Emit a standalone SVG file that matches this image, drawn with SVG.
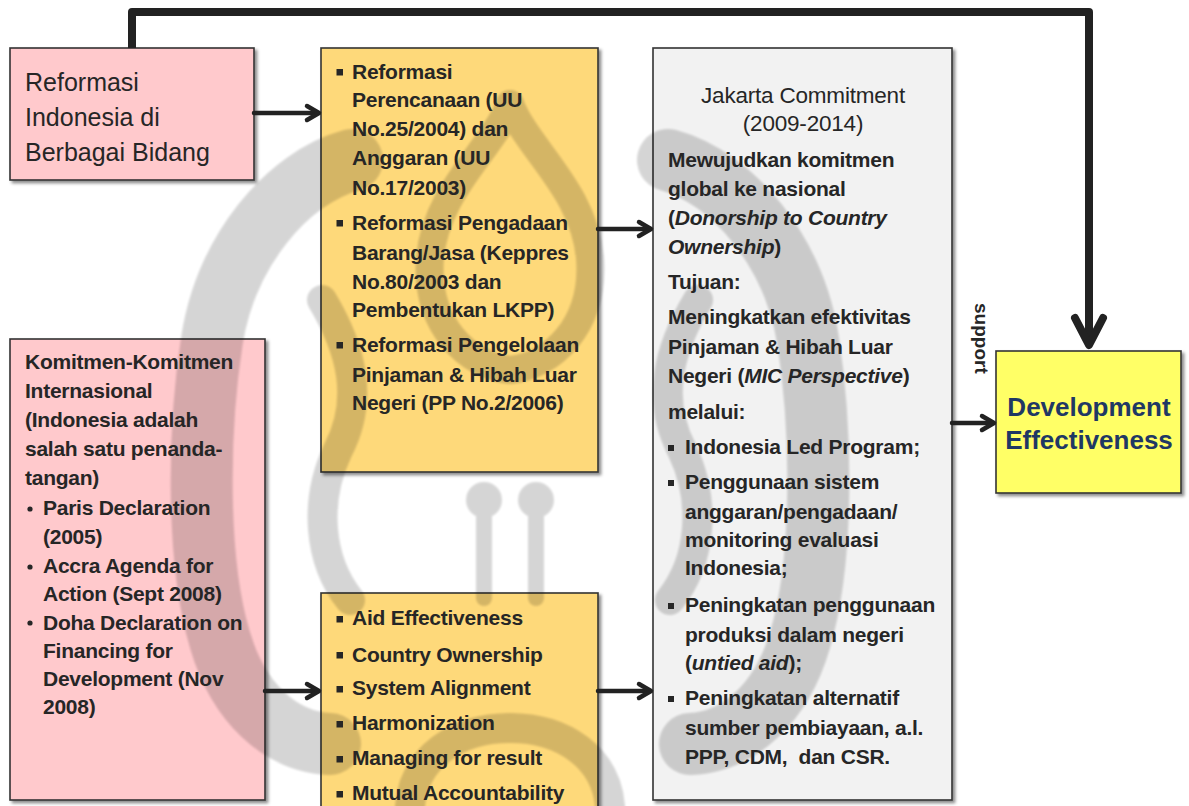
<svg xmlns="http://www.w3.org/2000/svg" width="1189" height="806" viewBox="0 0 1189 806">
  <defs>
    <filter id="shadow" x="-5%" y="-5%" width="112%" height="112%">
      <feDropShadow dx="2.5" dy="2.5" stdDeviation="1.5" flood-color="#000" flood-opacity="0.45"/>
    </filter>
    <filter id="soft" x="-10%" y="-10%" width="120%" height="120%">
      <feGaussianBlur stdDeviation="1.2"/>
    </filter>
    <style>
      .box { stroke: #333; stroke-width: 1.6; filter: url(#shadow); }
      .pink { fill: #FFC9CC; }
      .gold { fill: #FED97A; }
      .grey { fill: #F2F2F2; }
      .yellow { fill: #FFFF66; }
      text { font-family: "Liberation Sans", Arial, sans-serif; fill: #262626; }
      .reg25 { font-size: 25px; }
      .b21 { font-size: 21px; font-weight: bold; letter-spacing: -0.25px; }
      .r22 { font-size: 22.5px; letter-spacing: -0.2px; }
      .it { font-style: italic; }
      .title { font-size: 26px; font-weight: bold; fill: #1F3864; }
      .sup { font-size: 19px; font-weight: bold; }
      .sq { fill: #262626; }
      .link { fill: none; stroke: #222; stroke-width: 4.5; stroke-linecap: round; stroke-linejoin: round; }
      .main { fill: none; stroke: #222; stroke-width: 8; stroke-linejoin: round; }
      .mainhead { fill: none; stroke: #222; stroke-width: 8; stroke-linecap: round; stroke-linejoin: round; }
      .wm { fill: none; stroke: #000; stroke-linecap: round; }
    </style>
    <!-- left half of the background emblem; mirrored about x=510 -->
    <g id="emblem-half">
      <!-- central flame outline -->
      <path class="wm" stroke-width="28" d="M510,104 C492,150 436,190 430,258 C425,325 468,366 510,370"/>
      <!-- large outer horn -->
      <path class="wm" stroke-width="62" d="M352,160 C286,178 226,252 212,340 C198,430 196,560 220,640 C238,702 280,742 330,744"/>
      <!-- inner S-curl -->
      <path class="wm" stroke-width="30" d="M322,300 C352,350 364,400 338,450 C314,500 318,560 350,600"/>
      <!-- eye on a stalk -->
      <path class="wm" stroke-width="16" d="M484,598 V510"/>
      <circle cx="484" cy="500" r="18" fill="#000"/>
      <!-- lower arch -->
      <path class="wm" stroke-width="30" d="M410,806 C414,758 456,728 510,728"/>
    </g>
  </defs>

  <rect width="1189" height="806" fill="#FFFFFF"/>

  <!-- Reformasi Indonesia -->
  <g id="reformasi-indonesia">
    <rect class="box pink" x="10" y="48" width="244" height="132"/>
  </g>

  <!-- Reform items -->
  <g id="reform-items">
    <rect class="box gold" x="321" y="48" width="277" height="424"/>
  </g>

  <!-- International commitments -->
  <g id="komitmen-internasional">
    <rect class="box pink" x="10" y="339" width="255" height="461"/>
  </g>

  <!-- Aid effectiveness principles -->
  <g id="prinsip">
    <rect class="box gold" x="321" y="593" width="277" height="230"/>
  </g>

  <!-- Jakarta Commitment -->
  <g id="jakarta-commitment">
    <rect class="box grey" x="653" y="48" width="299" height="752"/>
  </g>

  <!-- Development Effectiveness -->
  <g id="development-effectiveness">
    <rect class="box yellow" x="996" y="351" width="185" height="142"/>
  </g>

  <!-- faint emblem over the box fills, under the lettering -->
  <g id="emblem" opacity="0.16" filter="url(#soft)">
    <use href="#emblem-half"/>
    <use href="#emblem-half" transform="matrix(-1 0 0 1 1020 0)"/>
  </g>

  <!-- lettering -->
  <g id="labels">
    <g id="reformasi-indonesia-text">
      <text class="reg25" x="25" y="91">Reformasi</text>
      <text class="reg25" x="25" y="126">Indonesia di</text>
      <text class="reg25" x="25" y="161">Berbagai Bidang</text>
    </g>
    <g id="reform-items-text">
      <rect class="sq" x="336.5" y="69" width="6.5" height="6.5"/>
      <rect class="sq" x="336.5" y="220" width="6.5" height="6.5"/>
      <rect class="sq" x="336.5" y="342" width="6.5" height="6.5"/>
      <text class="b21" x="352" y="79">Reformasi</text>
      <text class="b21" x="352" y="107">Perencanaan (UU</text>
      <text class="b21" x="352" y="136">No.25/2004) dan</text>
      <text class="b21" x="352" y="165">Anggaran (UU</text>
      <text class="b21" x="352" y="195">No.17/2003)</text>
      <text class="b21" x="352" y="230">Reformasi Pengadaan</text>
      <text class="b21" x="352" y="260">Barang/Jasa (Keppres</text>
      <text class="b21" x="352" y="289">No.80/2003 dan</text>
      <text class="b21" x="352" y="317">Pembentukan LKPP)</text>
      <text class="b21" x="352" y="352">Reformasi Pengelolaan</text>
      <text class="b21" x="352" y="382">Pinjaman &amp; Hibah Luar</text>
      <text class="b21" x="352" y="410">Negeri (PP No.2/2006)</text>
    </g>
    <g id="komitmen-internasional-text">
      <text class="b21" x="25" y="369">Komitmen-Komitmen</text>
      <text class="b21" x="25" y="398">Internasional</text>
      <text class="b21" x="25" y="427">(Indonesia adalah</text>
      <text class="b21" x="25" y="456">salah satu penanda-</text>
      <text class="b21" x="25" y="485">tangan)</text>
      <circle class="sq" cx="30" cy="509" r="2.6"/>
      <circle class="sq" cx="30" cy="567" r="2.6"/>
      <circle class="sq" cx="30" cy="623" r="2.6"/>
      <text class="b21" x="43" y="515">Paris Declaration</text>
      <text class="b21" x="43" y="544">(2005)</text>
      <text class="b21" x="43" y="573">Accra Agenda for</text>
      <text class="b21" x="43" y="601">Action (Sept 2008)</text>
      <text class="b21" x="43" y="630">Doha Declaration on</text>
      <text class="b21" x="43" y="658">Financing for</text>
      <text class="b21" x="43" y="686">Development (Nov</text>
      <text class="b21" x="43" y="714">2008)</text>
    </g>
    <g id="prinsip-text">
      <rect class="sq" x="336.5" y="616" width="6.5" height="6.5"/>
      <rect class="sq" x="336.5" y="652" width="6.5" height="6.5"/>
      <rect class="sq" x="336.5" y="686" width="6.5" height="6.5"/>
      <rect class="sq" x="336.5" y="721" width="6.5" height="6.5"/>
      <rect class="sq" x="336.5" y="756" width="6.5" height="6.5"/>
      <rect class="sq" x="336.5" y="791" width="6.5" height="6.5"/>
      <text class="b21" x="352" y="625">Aid Effectiveness</text>
      <text class="b21" x="352" y="662">Country Ownership</text>
      <text class="b21" x="352" y="695">System Alignment</text>
      <text class="b21" x="352" y="730">Harmonization</text>
      <text class="b21" x="352" y="765">Managing for result</text>
      <text class="b21" x="352" y="800">Mutual Accountability</text>
    </g>
    <g id="jakarta-commitment-text">
      <text class="r22" x="803" y="103" text-anchor="middle">Jakarta Commitment</text>
      <text class="r22" x="803" y="131" text-anchor="middle">(2009-2014)</text>
      <text class="b21" x="668" y="167">Mewujudkan komitmen</text>
      <text class="b21" x="668" y="196">global ke nasional</text>
      <text class="b21" x="668" y="225">(<tspan class="it">Donorship to Country</tspan></text>
      <text class="b21" x="668" y="254"><tspan class="it">Ownership</tspan>)</text>
      <text class="b21" x="668" y="289">Tujuan:</text>
      <text class="b21" x="668" y="324">Meningkatkan efektivitas</text>
      <text class="b21" x="668" y="354">Pinjaman &amp; Hibah Luar</text>
      <text class="b21" x="668" y="383">Negeri (<tspan class="it">MIC Perspective</tspan>)</text>
      <text class="b21" x="668" y="419">melalui:</text>
      <rect class="sq" x="668" y="445" width="6" height="6"/>
      <rect class="sq" x="668" y="480" width="6" height="6"/>
      <rect class="sq" x="668" y="603" width="6" height="6"/>
      <rect class="sq" x="668" y="696" width="6" height="6"/>
      <text class="b21" x="685" y="454">Indonesia Led Program;</text>
      <text class="b21" x="685" y="489">Penggunaan sistem</text>
      <text class="b21" x="685" y="519">anggaran/pengadaan/</text>
      <text class="b21" x="685" y="547">monitoring evaluasi</text>
      <text class="b21" x="685" y="575">Indonesia;</text>
      <text class="b21" x="685" y="612">Peningkatan penggunaan</text>
      <text class="b21" x="685" y="642">produksi dalam negeri</text>
      <text class="b21" x="685" y="670">(<tspan class="it">untied aid</tspan>);</text>
      <text class="b21" x="685" y="705">Peningkatan alternatif</text>
      <text class="b21" x="685" y="735">sumber pembiayaan, a.l.</text>
      <text class="b21" x="685" y="764" xml:space="preserve">PPP, CDM,  dan CSR.</text>
    </g>
    <g id="development-effectiveness-text">
      <text class="title" x="1089" y="416" text-anchor="middle">Development</text>
      <text class="title" x="1089" y="449" text-anchor="middle">Effectiveness</text>
    </g>
  </g>

  <!-- Connectors -->
  <g id="connectors">
    <path class="main" d="M132,48 V12 H1089 V344"/>
    <path class="mainhead" d="M1075,318 L1089,345 L1103,318"/>

    <path class="link" d="M254,113 H318"/>
    <path class="link" d="M307,106 L319,113 L307,120"/>

    <path class="link" d="M598,229 H650"/>
    <path class="link" d="M639,222 L651,229 L639,236"/>

    <path class="link" d="M265,691 H318"/>
    <path class="link" d="M307,684 L319,691 L307,698"/>

    <path class="link" d="M598,691 H650"/>
    <path class="link" d="M639,684 L651,691 L639,698"/>

    <path class="link" d="M952,423 H993"/>
    <path class="link" d="M982,416 L994,423 L982,430"/>

    <text class="sup" transform="translate(975,303) rotate(90)">support</text>
  </g>
</svg>
